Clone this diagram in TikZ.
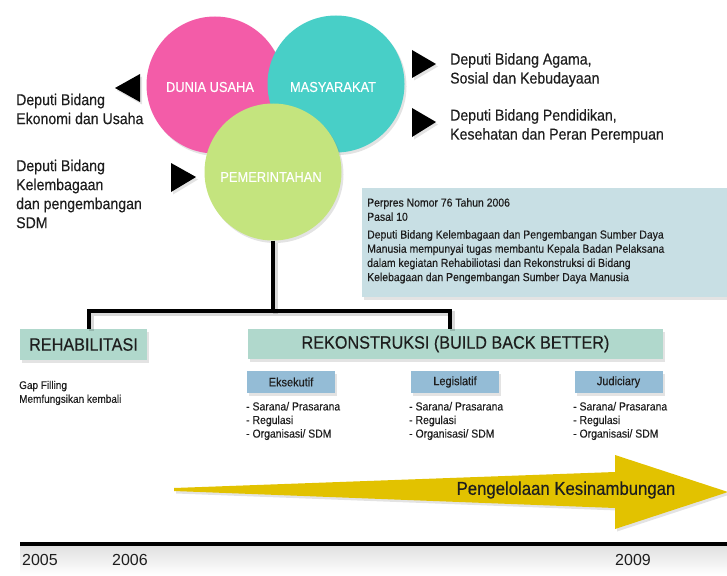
\documentclass[tikz,border=0pt]{standalone}
\usepackage{fontspec}
\setmainfont{Liberation Sans}[FakeStretch=0.9, FakeBold=0.35]
\newfontfamily\yearfont{Liberation Sans}
\usetikzlibrary{shadows}

\definecolor{pinkc}{RGB}{243,92,168}
\definecolor{tealc}{RGB}{72,207,199}
\definecolor{limec}{RGB}{196,228,126}
\definecolor{mintc}{RGB}{176,216,204}
\definecolor{bluec}{RGB}{148,188,214}
\definecolor{notec}{RGB}{200,223,228}
\definecolor{goldc}{RGB}{226,194,0}
\definecolor{inkc}{RGB}{30,30,30}

\begin{document}
\begin{tikzpicture}[x=1pt,y=-1pt,
  softshadow/.style={drop shadow={opacity=0.22, shadow xshift=2pt, shadow yshift=-2.5pt}},
  circ/.style={circle, minimum size=137pt, inner sep=0pt, softshadow},
  circtext/.style={text=white, font=\fontsize{14.3}{16}\selectfont, inner sep=0pt},
  tri/.style={fill=black, softshadow},
  lbl/.style={text=inkc, align=left, inner sep=0pt, anchor=west, font=\fontsize{15.7}{19}\selectfont},
  small/.style={text=inkc, align=left, inner sep=0pt, anchor=west, font=\fontsize{11.6}{13.6}\selectfont},
  phase/.style={fill=mintc, inner sep=0pt, text=inkc, font=\fontsize{18}{20}\selectfont, softshadow},
  branch/.style={fill=bluec, inner sep=0pt, minimum height=22pt, minimum width=88pt, text=inkc, font=\fontsize{12.2}{14}\selectfont, softshadow},
  conn/.style={line width=4pt, black, preaction={draw=black, opacity=0.15, line width=5pt, transform canvas={shift={(2pt,-2.5pt)}}}},
  year/.style={text=inkc, inner sep=0pt, anchor=west, font=\yearfont\fontsize{16}{18}\selectfont}
]
\useasboundingbox (0,0) rectangle (727,575);

% three overlapping circles
\node[circ, fill=pinkc] (biz) at (215,85) {};
\node[circ, fill=tealc] (soc) at (336,84) {};
\node[circ, fill=limec] (gov) at (273,172) {};
\node[circtext] (biztext) at (210,87) {DUNIA USAHA};
\node[circtext] (soctext) at (333,87) {MASYARAKAT};
\node[circtext] (govtext) at (271,177) {PEMERINTAHAN};

% pointer triangles
\fill[tri] (140,74) -- (115,88) -- (140,102) -- cycle;
\fill[tri] (171,163) -- (196,177) -- (171,192) -- cycle;
\fill[tri] (412,50) -- (436,64) -- (412,78) -- cycle;
\fill[tri] (412,108) -- (436,122) -- (412,137) -- cycle;

% deputy labels
\node[lbl] (ekon) at (16,109) {Deputi Bidang\\Ekonomi dan Usaha};
\node[lbl] (lemb) at (16,194) {Deputi Bidang\\Kelembagaan\\dan pengembangan\\SDM};
\node[lbl] (agama) at (450,70) {Deputi Bidang Agama,\\Sosial dan Kebudayaan};
\node[lbl] (didik) at (450,126) {Deputi Bidang Pendidikan,\\Kesehatan dan Peran Perempuan};

% regulation note
\node[fill=notec, inner sep=0pt, minimum width=372pt, minimum height=109pt, anchor=north west, softshadow] (note) at (362,188) {};
\node[text=inkc, align=left, inner sep=0pt, anchor=north west, font=\fontsize{11.6}{14.2}\selectfont] (notetext) at (367,198)
  {Perpres Nomor 76 Tahun 2006\\
   Pasal 10\\[3.5pt]
   Deputi Bidang Kelembagaan dan Pengembangan Sumber Daya\\
   Manusia mempunyai tugas membantu Kepala Badan Pelaksana\\
   dalam kegiatan Rehabiliotasi dan Rekonstruksi di Bidang\\
   Kelebagaan dan Pengembangan Sumber Daya Manusia};

% phases
\node[phase, minimum width=127pt, minimum height=31pt] (rehab) at (83.5,344.5) {REHABILITASI};
\node[phase, minimum width=415pt, minimum height=30pt] (rekon) at (455.5,344) {REKONSTRUKSI (BUILD BACK BETTER)};

% connectors
\coordinate (hub) at (273,311);
\draw[conn] (gov.south) -- (hub);
\draw[conn] ([xshift=5.5pt]rehab.north) |- (hub) -| ([xshift=-5.5pt]rekon.north);

% branches
\node[branch] (eks) at (291,382) {Eksekutif};
\node[branch] (leg) at (455,382) {Legislatif};
\node[branch] (jud) at (618.5,382) {Judiciary};

\node[small, font=\fontsize{11.1}{13.8}\selectfont] (gap) at (19,393) {Gap Filling\\Memfungsikan kembali};
\node[small] (ekslist) at (246,421) {- Sarana/ Prasarana\\- Regulasi\\- Organisasi/ SDM};
\node[small] (leglist) at (409,421) {- Sarana/ Prasarana\\- Regulasi\\- Organisasi/ SDM};
\node[small] (judlist) at (573,421) {- Sarana/ Prasarana\\- Regulasi\\- Organisasi/ SDM};

% continuity arrow
\fill[goldc, softshadow] (174,488) -- (615,472) -- (615,455) -- (728,492) -- (615,529) -- (615,508) -- (174,491) -- cycle;
\node[text=inkc, inner sep=0pt, font=\fontsize{18.6}{20}\selectfont] (cont) at (566,490) {Pengelolaan Kesinambungan};

% timeline
\shade[top color=black!12, bottom color=white] (20,546) rectangle (727,575);
\draw[line width=4pt] (20,544) -- (727,544);
\node[year] (y2005) at (22,560) {2005};
\node[year] (y2006) at (112,560) {2006};
\node[year] (y2009) at (615,560) {2009};
\end{tikzpicture}
\end{document}
